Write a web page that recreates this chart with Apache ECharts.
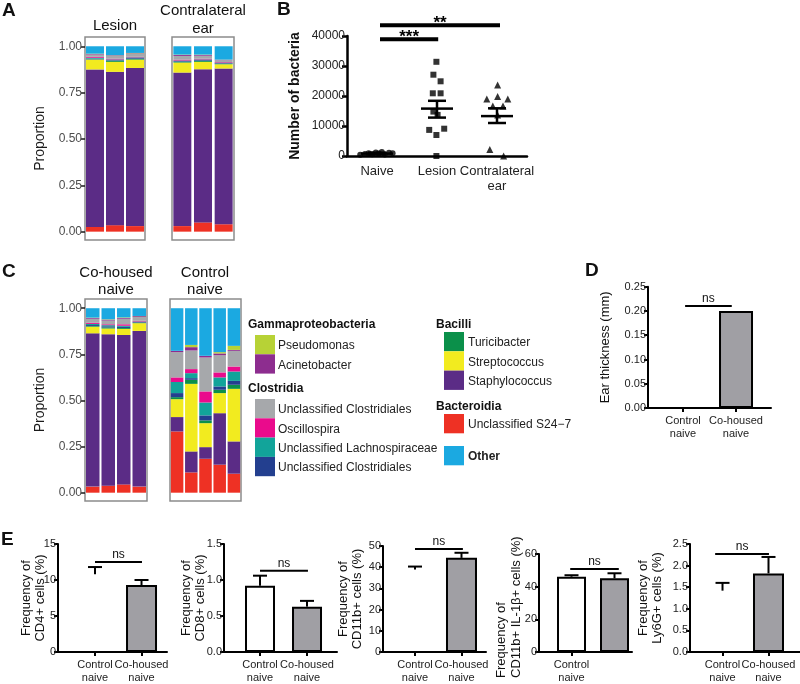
<!DOCTYPE html>
<html>
<head>
<meta charset="utf-8">
<script src="https://cdn.jsdelivr.net/npm/echarts@6/dist/echarts.min.js"></script>
<style>
  html, body { margin: 0; padding: 0; background: #fff; }
  #chart { width: 800px; height: 684px; }
</style>
</head>
<body>
<div id="chart"></div>
<script>
// taxa, bottom of the stack first
const taxa = ['Unclassified S24−7', 'Staphylococcus', 'Streptococcus', 'Turicibacter',
  'Unclassified Clostridiales (2)', 'Unclassified Lachnospiraceae', 'Oscillospira',
  'Unclassified Clostridiales', 'Acinetobacter', 'Pseudomonas', 'Other']
const taxaColors = ['#ee3124', '#5b2c86', '#f2eb1f', '#0b904a', '#233f8f', '#12a49a',
  '#ea0b8c', '#a6a8ab', '#8d2d8f', '#b7d236', '#1ba9e1']

// panel A: proportions per sample (same order as taxa)
const lesionSamples = [
  [0.025, 0.850, 0.053, 0.002, 0.003, 0.005, 0.005, 0.012, 0.003, 0.002, 0.040],
  [0.035, 0.827, 0.054, 0.006, 0.003, 0.004, 0.004, 0.015, 0.003, 0.001, 0.048],
  [0.030, 0.853, 0.045, 0.004, 0.004, 0.004, 0.003, 0.016, 0.003, 0.002, 0.036]
]
const contraSamples = [
  [0.030, 0.828, 0.054, 0.003, 0.004, 0.004, 0.005, 0.020, 0.005, 0.002, 0.045],
  [0.050, 0.826, 0.040, 0.005, 0.004, 0.004, 0.004, 0.016, 0.004, 0.002, 0.045],
  [0.040, 0.840, 0.023, 0.003, 0.003, 0.003, 0.003, 0.010, 0.002, 0.001, 0.072]
]
// panel C
const cohousedSamples = [
  [0.033, 0.831, 0.036, 0.004, 0.005, 0.006, 0.006, 0.022, 0.004, 0.002, 0.051],
  [0.038, 0.821, 0.031, 0.006, 0.006, 0.006, 0.005, 0.020, 0.005, 0.002, 0.060],
  [0.045, 0.810, 0.033, 0.005, 0.006, 0.006, 0.008, 0.030, 0.004, 0.003, 0.050],
  [0.033, 0.844, 0.042, 0.003, 0.003, 0.003, 0.004, 0.020, 0.005, 0.001, 0.042]
]
const controlSamples = [
  [0.332, 0.078, 0.097, 0.011, 0.022, 0.060, 0.025, 0.137, 0.007, 0.000, 0.231],
  [0.110, 0.114, 0.366, 0.022, 0.009, 0.027, 0.022, 0.101, 0.018, 0.012, 0.199],
  [0.184, 0.063, 0.130, 0.015, 0.027, 0.070, 0.060, 0.184, 0.009, 0.000, 0.258],
  [0.152, 0.279, 0.109, 0.018, 0.018, 0.049, 0.027, 0.093, 0.010, 0.007, 0.238],
  [0.103, 0.175, 0.285, 0.022, 0.021, 0.051, 0.027, 0.085, 0.005, 0.022, 0.204]
]
const propTicks = [0, 0.25, 0.5, 0.75, 1]

// panel B: bacteria counts (x = jittered category position)
const bCats = ['Naive', 'Lesion', 'Contralateral\near']
const naiveX = [0.22, 0.30, 0.36, 0.42, 0.48, 0.53, 0.58, 0.63, 0.70, 0.76]
const naiveY = [400, 700, 900, 600, 1200, 800, 1300, 500, 1100, 900]
const lesionX = [1.49, 1.44, 1.56, 1.43, 1.56, 1.44, 1.51, 1.37, 1.62, 1.49, 1.49]
const lesionY = [31400, 27100, 24900, 20900, 20900, 14800, 13700, 8700, 9100, 7000, 0]
const contraX = [2.51, 2.33, 2.51, 2.68, 2.43, 2.60, 2.51, 2.38, 2.61]
const contraY = [23700, 19000, 19800, 19000, 16700, 16700, 13700, 2200, 0]
const bMeans = [800, 15800, 13300]
const bSemLow = [500, 12800, 11000]
const bSemHigh = [1100, 18400, 15900]
const bSig = [[0.55, 1.52, 38900], [0.55, 2.55, 43600]]
const bSigLabels = ['***', '**']

// panel D and E: two groups each
const groupCats = ['Control\nnaive', 'Co-housed\nnaive']
const dMeans = [null, 0.20]
const dNsLevel = 0.21
const eTitles = ['Frequency of\nCD4+ cells (%)', 'Frequency of\nCD8+ cells (%)',
  'Frequency of\nCD11b+ cells (%)', 'Frequency of\nCD11b+ IL-1β+ cells (%)', 'Frequency of\nLy6G+ cells (%)']
const eMeans = [[10.8, 9.3], [0.92, 0.63], [38.9, 44.4], [46.1, 45.1], [1.42, 1.82]]
const eUpper = [[11.8, 10.0], [1.06, 0.71], [40.3, 46.8], [47.0, 48.2], [1.60, 2.20]]
const eNsLevel = [12.5, 1.13, 48.6, 50.8, 2.27]
const eYMax = [15, 1.5, 50, 60, 2.5]
const eYStep = [5, 0.5, 10, 20, 0.5]
const eDecimals = [0, 1, 0, 0, 1]

const font = "'Liberation Sans', Arial, sans-serif"
const chart = echarts.init(document.getElementById('chart'))

const grid = []
const xAxis = []
const yAxis = []
const series = []

function addStackFacet(box, samples, barW, showY) {
  const gi = grid.length
  grid.push(Object.assign({ show: true, borderColor: '#8c8c8c', borderWidth: 1.5, backgroundColor: '#fff' }, box))
  xAxis.push({ type: 'category', gridIndex: gi, data: samples.map((s, i) => 'S' + (i + 1)), show: false })
  yAxis.push({
    type: 'value', gridIndex: gi, min: -0.045, max: 1.05, show: showY,
    axisLine: { show: false },
    axisTick: { show: true, customValues: propTicks, length: 4, lineStyle: { color: '#1a1a1a', width: 1.5 } },
    axisLabel: { customValues: propTicks, formatter: v => v.toFixed(2), color: '#4d4d4d', fontSize: 12, margin: 3 },
    splitLine: { show: false },
    name: 'Proportion', nameLocation: 'middle', nameGap: 38, nameMoveOverlap: false,
    nameTextStyle: { fontSize: 14, color: '#1a1a1a' }
  })
  taxa.forEach((name, t) => {
    series.push({
      name: name, type: 'bar', stack: 'st' + gi, xAxisIndex: gi, yAxisIndex: gi,
      barWidth: barW, silent: true,
      data: samples.map(s => s[t]),
      itemStyle: { color: taxaColors[t] }
    })
  })
}

addStackFacet({ left: 85, top: 37, width: 60, height: 203 }, lesionSamples, 18, true)
addStackFacet({ left: 172, top: 37, width: 62, height: 203 }, contraSamples, 18, false)
addStackFacet({ left: 85, top: 299, width: 62, height: 202 }, cohousedSamples, 13.5, true)
addStackFacet({ left: 170, top: 299, width: 71, height: 202 }, controlSamples, 12.5, false)

// ---- panel B
const bi = grid.length
grid.push({ left: 347, top: 36, width: 180, height: 120 })
xAxis.push({
  type: 'value', gridIndex: bi, min: 0, max: 3,
  axisLine: { onZero: false, lineStyle: { color: '#000', width: 2.5 } },
  axisTick: { show: false }, splitLine: { show: false },
  axisLabel: { customValues: [0.5, 1.5, 2.5], formatter: v => bCats[Math.floor(v)], fontSize: 13, color: '#222', margin: 8, lineHeight: 15, hideOverlap: false }
})
yAxis.push({
  type: 'value', gridIndex: bi, min: 0, max: 40000, interval: 10000,
  axisLine: { show: true, onZero: false, lineStyle: { color: '#000', width: 2.5 } },
  axisTick: { show: true, length: 5, lineStyle: { color: '#000', width: 2.5 } },
  axisLabel: { fontSize: 12, color: '#222', margin: 2, formatter: v => String(v) },
  splitLine: { show: false },
  name: 'Number of bacteria', nameLocation: 'middle', nameGap: 45, nameMoveOverlap: false,
  nameTextStyle: { fontSize: 14, fontWeight: 'bold', color: '#111' }
})
const zip = (xs, ys) => xs.map((x, i) => [x, ys[i]])
series.push(
  { type: 'scatter', xAxisIndex: bi, yAxisIndex: bi, symbol: 'circle', symbolSize: 6, itemStyle: { color: '#000' }, data: zip(naiveX, naiveY), silent: true },
  { type: 'scatter', xAxisIndex: bi, yAxisIndex: bi, symbol: 'rect', symbolSize: 6, itemStyle: { color: '#000' }, data: zip(lesionX, lesionY), silent: true },
  { type: 'scatter', xAxisIndex: bi, yAxisIndex: bi, symbol: 'triangle', symbolSize: 7, itemStyle: { color: '#000' }, data: zip(contraX, contraY), silent: true },
  {
    type: 'custom', xAxisIndex: bi, yAxisIndex: bi, clip: false, silent: true, z: 5,
    data: bMeans.map((m, i) => [i + 0.5, m, bSemLow[i], bSemHigh[i]]),
    renderItem: function (params, api) {
      const x = api.value(0)
      const m = api.coord([x, api.value(1)])
      const lo = api.coord([x, api.value(2)])
      const hi = api.coord([x, api.value(3)])
      const st = { stroke: '#000', lineWidth: 2.5 }
      return { type: 'group', children: [
        { type: 'line', shape: { x1: m[0] - 16, y1: m[1], x2: m[0] + 16, y2: m[1] }, style: st },
        { type: 'line', shape: { x1: lo[0], y1: lo[1], x2: hi[0], y2: hi[1] }, style: st },
        { type: 'line', shape: { x1: lo[0] - 9, y1: lo[1], x2: lo[0] + 9, y2: lo[1] }, style: st },
        { type: 'line', shape: { x1: hi[0] - 9, y1: hi[1], x2: hi[0] + 9, y2: hi[1] }, style: st }
      ] }
    }
  },
  {
    type: 'custom', xAxisIndex: bi, yAxisIndex: bi, clip: false, silent: true,
    data: bSig,
    renderItem: function (params, api) {
      const a = api.coord([api.value(0), api.value(2)])
      const b = api.coord([api.value(1), api.value(2)])
      return { type: 'group', children: [
        { type: 'line', shape: { x1: a[0], y1: a[1], x2: b[0], y2: b[1] }, style: { stroke: '#000', lineWidth: 4 } },
        { type: 'text', x: (a[0] + b[0]) / 2, y: a[1] - 2, style: { text: bSigLabels[params.dataIndex], align: 'center', verticalAlign: 'middle', font: 'bold 17px ' + font, fill: '#000' } }
      ] }
    }
  }
)

// ---- panels D and E
function addGroupPanel(p) {
  const gi = grid.length
  grid.push(p.box)
  xAxis.push({
    type: 'value', gridIndex: gi, min: p.xMin, max: p.xMax,
    axisLine: { onZero: false, lineStyle: { color: '#000', width: 2 } },
    axisTick: { show: true, customValues: [0, 1], length: 4, lineStyle: { color: '#000', width: 2 } },
    axisLabel: { customValues: [0, 1], formatter: v => groupCats[Math.round(v)], fontSize: 11, color: '#222', margin: 6, lineHeight: 13,
      showMinLabel: true, showMaxLabel: true, hideOverlap: false },
    splitLine: { show: false }
  })
  yAxis.push({
    type: 'value', gridIndex: gi, min: 0, max: p.yMax, interval: p.yStep,
    axisLine: { show: true, onZero: false, lineStyle: { color: '#000', width: 2 } },
    axisTick: { show: true, length: 4, lineStyle: { color: '#000', width: 2 } },
    axisLabel: { fontSize: 11, color: '#222', margin: 2, formatter: v => v.toFixed(p.decimals), showMinLabel: true, hideOverlap: false },
    splitLine: { show: false },
    name: p.title, nameLocation: 'middle', nameGap: p.nameGap, nameMoveOverlap: false,
    nameTextStyle: { fontSize: 13, color: '#111', lineHeight: 14 }
  })
  const barData = p.means.map((m, i) => {
    if (m === null) return { value: [i, '-'] }
    const hidden = i === 0 && p.hideControl
    return {
      value: [i, m],
      itemStyle: hidden ? { color: 'rgba(0,0,0,0)', borderWidth: 0 }
        : { color: i === 0 ? '#fff' : '#a09fa4', borderColor: '#000', borderWidth: 2 }
    }
  })
  series.push({ type: 'bar', xAxisIndex: gi, yAxisIndex: gi, barWidth: p.barW, silent: true, data: barData })
  if (p.upper) {
    series.push({
      type: 'custom', xAxisIndex: gi, yAxisIndex: gi, clip: false, silent: true, z: 3,
      data: p.means.map((m, i) => [i, m, p.upper[i]]),
      renderItem: function (params, api) {
        const base = api.coord([api.value(0), api.value(1)])
        const top = api.coord([api.value(0), api.value(2)])
        const st = { stroke: '#000', lineWidth: 2 }
        return { type: 'group', children: [
          { type: 'line', shape: { x1: base[0], y1: base[1], x2: top[0], y2: top[1] }, style: st },
          { type: 'line', shape: { x1: top[0] - 7, y1: top[1], x2: top[0] + 7, y2: top[1] }, style: st }
        ] }
      }
    })
  }
  series.push({
    type: 'custom', xAxisIndex: gi, yAxisIndex: gi, clip: false, silent: true,
    data: [[p.nsFrom, p.nsTo, p.ns]],
    renderItem: function (params, api) {
      const a = api.coord([api.value(0), api.value(2)])
      const b = api.coord([api.value(1), api.value(2)])
      return { type: 'group', children: [
        { type: 'line', shape: { x1: a[0], y1: a[1], x2: b[0], y2: b[1] }, style: { stroke: '#000', lineWidth: 2 } },
        { type: 'text', x: (a[0] + b[0]) / 2, y: a[1] - 1, style: { text: 'ns', align: 'center', verticalAlign: 'bottom', font: '12px ' + font, fill: '#111' } }
      ] }
    }
  })
}

addGroupPanel({
  box: { left: 648, top: 286.7, width: 123, height: 121.3 }, xMin: -0.66, xMax: 1.66,
  yMax: 0.25, yStep: 0.05, decimals: 2, title: 'Ear thickness (mm)', nameGap: 36,
  means: dMeans, upper: null, ns: dNsLevel, nsFrom: 0.04, nsTo: 0.92, barW: 34, hideControl: true
})
const eBoxes = [
  { left: 58, top: 544, width: 109, height: 110 },
  { left: 224, top: 544, width: 113, height: 110 },
  { left: 383, top: 546, width: 103, height: 108 },
  { left: 539, top: 554, width: 93, height: 98 },
  { left: 690, top: 544, width: 110, height: 109 }
]
const eXRange = [[-0.796, 1.548], [-0.766, 1.638], [-0.688, 1.527], [-0.756, 1.407], [-0.707, 1.685]]
const eNsSpan = [[0, 1.01], [0, 1.02], [0, 1.03], [-0.03, 1.1], [-0.16, 1.01]]
const eBarW = [31, 30, 31, 29, 31]
const eNameGap = [11, 17, 19, 0, 26]
const eHideControl = [true, false, true, false, true]
eTitles.forEach((title, k) => {
  addGroupPanel({
    box: eBoxes[k], xMin: eXRange[k][0], xMax: eXRange[k][1],
    yMax: eYMax[k], yStep: eYStep[k], decimals: eDecimals[k],
    title: k === 3 ? '' : title, nameGap: eNameGap[k],
    means: eMeans[k], upper: eUpper[k], ns: eNsLevel[k],
    nsFrom: eNsSpan[k][0], nsTo: eNsSpan[k][1], barW: eBarW[k], hideControl: eHideControl[k]
  })
})

// ---- text decorations and legend
const graphic = []
function txt(x, y, text, f, extra) {
  graphic.push({ type: 'text', x: x, y: y, silent: true,
    style: Object.assign({ text: text, font: f, fill: '#111', align: 'center', verticalAlign: 'middle' }, extra || {}) })
}
const letterFont = 'bold 19px ' + font
txt(2, 11, 'A', letterFont, { align: 'left' })
txt(277, 10, 'B', letterFont, { align: 'left' })
txt(2, 272, 'C', letterFont, { align: 'left' })
txt(585, 271, 'D', letterFont, { align: 'left' })
txt(1, 540, 'E', letterFont, { align: 'left' })

const stripFont = '15px ' + font
txt(115, 26, 'Lesion', stripFont)
txt(203, 11, 'Contralateral', stripFont)
txt(203, 29, 'ear', stripFont)
txt(116, 273, 'Co-housed', stripFont)
txt(116, 290, 'naive', stripFont)
txt(205, 273, 'Control', stripFont)
txt(205, 290, 'naive', stripFont)

// E4 axis title is left-aligned along the axis
graphic.push({ type: 'text', x: 509, y: 678, rotation: Math.PI / 2, silent: true,
  style: { text: eTitles[3], font: '13px ' + font, fill: '#111', align: 'left', verticalAlign: 'middle', lineHeight: 15 } })

const legendGroups = [
  { x: 248, y: 325, title: 'Gammaproteobacteria', items: [9, 8] },
  { x: 248, y: 389, title: 'Clostridia', items: [7, 6, 5, 4] },
  { x: 436, y: 325, title: 'Bacilli', items: [3, 2, 1] },
  { x: 436, y: 407, title: 'Bacteroidia', items: [0] },
  { x: 436, y: 446, title: null, items: [10] }
]
const legendLabel = i => i === 4 ? 'Unclassified Clostridiales' : taxa[i]
legendGroups.forEach(g => {
  let top = g.y
  if (g.title) {
    txt(g.x, g.y, g.title, 'bold 12px ' + font, { align: 'left' })
    top = g.y + (g.x < 400 ? 10 : 7)
  }
  g.items.forEach((t, j) => {
    const y0 = top + j * 19.3
    graphic.push({ type: 'rect', silent: true, shape: { x: g.x + (g.x < 400 ? 7 : 8), y: y0, width: 20, height: 19.3 },
      style: { fill: taxaColors[t] } })
    txt(g.x + (g.x < 400 ? 30 : 32), y0 + 11, legendLabel(t), (t === 10 ? 'bold ' : '') + '12px ' + font, { align: 'left', fill: '#222' })
  })
})

chart.setOption({
  animation: false,
  backgroundColor: '#fff',
  textStyle: { fontFamily: font },
  grid: grid,
  xAxis: xAxis,
  yAxis: yAxis,
  series: series,
  graphic: graphic
})
</script>
</body>
</html>
